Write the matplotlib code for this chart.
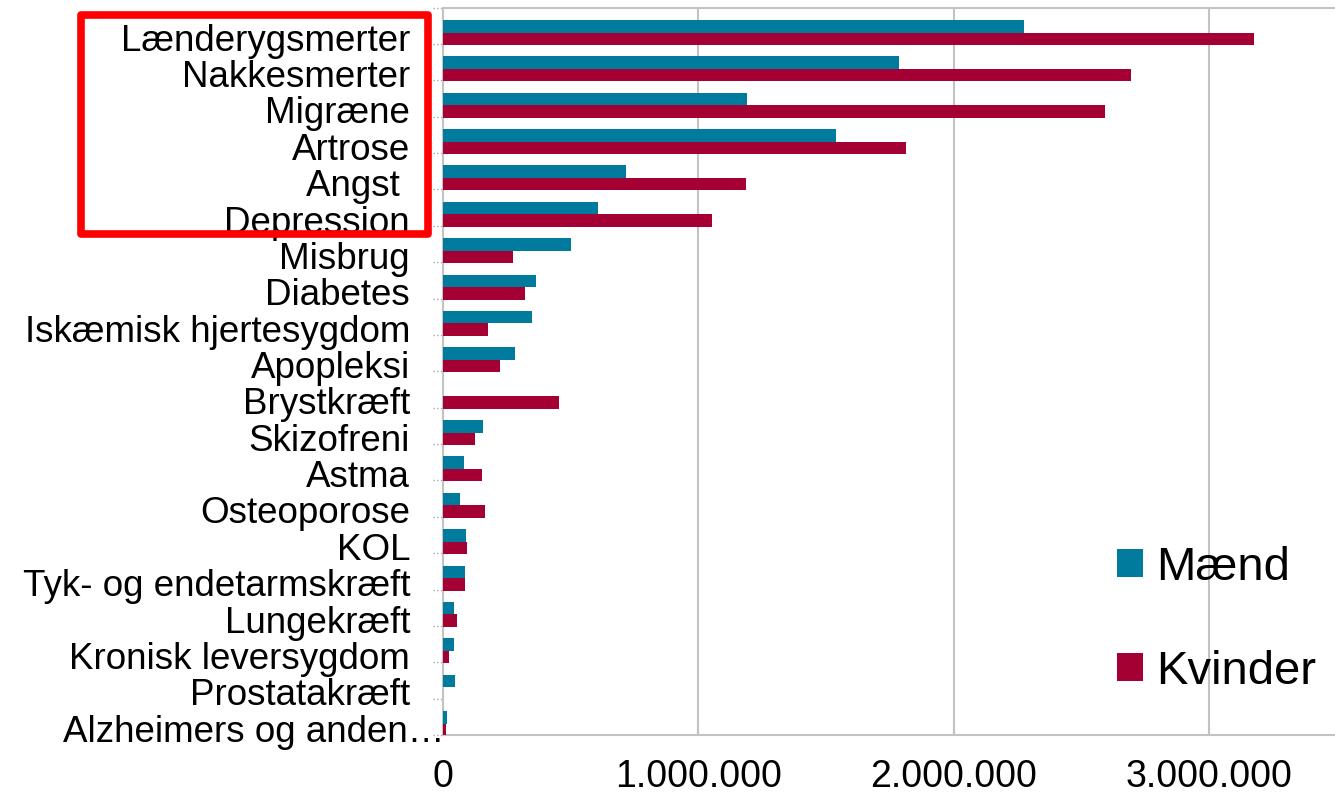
import matplotlib
matplotlib.use('Agg')
import matplotlib.pyplot as plt
from matplotlib.patches import Patch, Rectangle
from matplotlib.ticker import FuncFormatter

plt.rcParams['font.family'] = ['Liberation Sans', 'DejaVu Sans']

# sygdomme (øverst først)
categories = [
    'Lænderygsmerter', 'Nakkesmerter', 'Migræne', 'Artrose', 'Angst ', 'Depression',
    'Misbrug', 'Diabetes', 'Iskæmisk hjertesygdom', 'Apopleksi', 'Brystkræft',
    'Skizofreni', 'Astma', 'Osteoporose', 'KOL', 'Tyk- og endetarmskræft',
    'Lungekræft', 'Kronisk leversygdom', 'Prostatakræft', 'Alzheimers og anden…',
]
maend = [2276000, 1786000, 1191000, 1539000, 717000, 607000,
         500000, 365000, 350000, 282000, 0,
         155000, 82000, 67000, 90000, 87000,
         42000, 43000, 47000, 16000]
kvinder = [3176000, 2695000, 2593000, 1813000, 1187000, 1054000,
           274000, 321000, 176000, 223000, 454000,
           125000, 153000, 164000, 94000, 86000,
           55000, 24000, 0, 12000]
xticks = [0, 1000000, 2000000, 3000000]

TEAL = '#007B9E'
RED = '#A50034'
GRID = '#C3C3C3'

fig = plt.figure(figsize=(13.35, 7.95), dpi=100)
# plotområde i pixels: x 443 -> ~1337, y 8 -> 735
ax = fig.add_axes([443 / 1335, 60 / 795, 893.7 / 1335, 727 / 795])

y = list(range(len(categories)))
h = 0.344
ax.barh([i - h / 2 for i in y], maend, height=h, color=TEAL, linewidth=0,
        zorder=3, label='Mænd')
ax.barh([i + h / 2 for i in y], kvinder, height=h, color=RED, linewidth=0,
        zorder=3, label='Kvinder')

ax.set_xlim(0, 3500000)
ax.set_ylim(19.316, -0.674)

ax.set_xticks(xticks)
ax.xaxis.set_major_formatter(FuncFormatter(lambda v, p: f'{v:,.0f}'.replace(',', '.')))
ax.tick_params(axis='x', direction='in', length=8, width=1.5, color=GRID,
               labelsize=27, pad=17)
ax.set_yticks([])
ax.grid(axis='x', color=GRID, linewidth=1.5, zorder=0)
ax.set_axisbelow(True)

for side in ['left', 'bottom', 'top', 'right']:
    ax.spines[side].set_color(GRID)
    ax.spines[side].set_linewidth(1.5)

# kategori-labels (Excel placerer dem lidt under søjlerne)
ytrans = ax.get_yaxis_transform()
for i, name in enumerate(categories):
    xpos = -0.0369
    if name.endswith('…'):
        xpos = 0.002
    ax.text(xpos, i + 0.5, name, transform=ytrans, ha='right', va='baseline',
            fontsize=26.5, color='black')

# prikkede skillestreger til venstre for aksen
for i in range(-1, len(categories)):
    ax.plot([-0.0112, 0], [i + 0.316, i + 0.316], transform=ytrans, color='#A8A8A8',
            linestyle=':', linewidth=1, clip_on=False)

handles = [Patch(facecolor=TEAL), Patch(facecolor=RED)]
fig.legend(handles, ['Mænd', 'Kvinder'], loc='upper left',
           bbox_to_anchor=(1117 / 1335, 1 - 546 / 795), bbox_transform=fig.transFigure,
           frameon=False, fontsize=34, handlelength=0.55, handleheight=0.52,
           handletextpad=0.28, labelspacing=1.26, borderpad=0, borderaxespad=0)

# rød markering
fig.patches.append(Rectangle((80.5 / 1335, 1 - 233.5 / 795), 347.5 / 1335, 219 / 795,
                             transform=fig.transFigure, fill=False, edgecolor='#FF0000',
                             linewidth=5.5, joinstyle='round', zorder=5))

fig.savefig('out.png', dpi=100)
